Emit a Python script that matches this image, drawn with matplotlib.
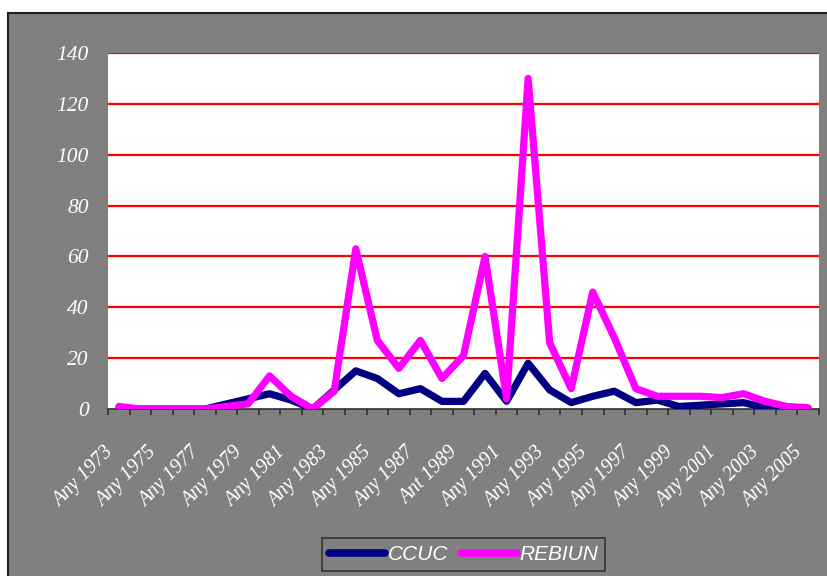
import matplotlib
matplotlib.use("Agg")
import matplotlib.pyplot as plt
from matplotlib.patches import Rectangle
from matplotlib.transforms import ScaledTranslation
import numpy as np

years = list(range(1973, 2006))
labels = ["Any %d" % y for y in years]
labels[16] = "Ant 1989"  # typo kept from the original chart

ccuc = [0, 0, 0, 0, 0, 2, 4, 6, 3.5, 0, 7.5, 15, 12, 6, 8, 3, 3, 14, 3, 18,
        7.5, 2.5, 5, 7, 2.5, 3.5, 1, 1.5, 2, 2.5, 0.5, 0, 0]
rebiun = [1, 0, 0, 0, 0, 1, 2, 13, 5, 0, 7, 63, 27, 16, 27, 12, 21, 60, 4, 130,
          26, 8, 46, 28, 8, 5, 5, 5, 4.5, 6, 3, 1, 0.5]

W, H = 828, 576
fig = plt.figure(figsize=(W / 100, H / 100), dpi=100)
fig.patch.set_facecolor("white")

# grey chart area with black border on top / left
bg = Rectangle((8 / W, 0), 1, 1 - 13 / H, transform=fig.transFigure,
               facecolor="#808080", edgecolor="none", zorder=-10)
fig.patches.append(bg)
fig.add_artist(plt.Line2D([8 / W, 1], [1 - 13 / H, 1 - 13 / H], color="#202020", lw=1.5,
                          transform=fig.transFigure, zorder=-5))
fig.add_artist(plt.Line2D([8 / W, 8 / W], [0, 1 - 13 / H], color="#202020", lw=1.5,
                          transform=fig.transFigure, zorder=-5))

left, right, top, bottom = 108, 819, 53, 409
ax = fig.add_axes([left / W, 1 - bottom / H, (right - left) / W, (bottom - top) / H])
ax.set_zorder(5)
ax.set_facecolor("white")

n = len(years)
x = np.arange(n)
ax.plot(x, ccuc, color="#000080", lw=5.2, solid_joinstyle="round",
        solid_capstyle="round", label="CCUC", zorder=3)
ax.plot(x, rebiun, color="#FF00FF", lw=5.2, solid_joinstyle="round",
        solid_capstyle="round", label="REBIUN", zorder=4)

ax.set_xlim(-0.5, n - 0.5)
ax.set_ylim(0, 140)
ax.set_yticks(range(0, 141, 20))
for v in range(20, 141, 20):
    ax.axhline(v, color="#FF0000", lw=1.6, zorder=1)

for s in ["top", "right", "left"]:
    ax.spines[s].set_visible(False)
ax.spines["bottom"].set_color("#303030")
ax.spines["bottom"].set_linewidth(1.2)

ax.set_xticks(np.arange(-0.5, n, 1), minor=False)
ax.set_xticklabels([])
ax.tick_params(axis="x", which="major", length=4, color="#303030", width=1.2, direction="out")
ax.tick_params(axis="y", length=0, pad=14)

ax.set_xticks(x[::2], minor=True)
ax.set_xticklabels(labels[::2], minor=True, rotation=45, ha="right", va="top",
                   rotation_mode="anchor", fontsize=14.5, color="white",
                   family="Liberation Serif", style="italic")
ax.tick_params(axis="x", which="minor", length=0, pad=14)
shift = ScaledTranslation(-15 / 100, -15 / 100, fig.dpi_scale_trans)
for t in ax.get_xticklabels(minor=True):
    t.set_transform(t.get_transform() + shift)
for t in ax.get_yticklabels():
    t.set_family("Liberation Serif")
    t.set_style("italic")
    t.set_fontsize(15.5)
    t.set_color("white")

leg = fig.legend(loc="center", bbox_to_anchor=(463.5 / W, 1 - 554.5 / H), ncol=2,
                 frameon=True, fancybox=False, handlelength=2.7, handletextpad=0.1,
                 columnspacing=0.6, borderpad=0.35,
                 prop={"family": "Liberation Sans", "style": "italic", "size": 15})
leg.set_zorder(6)
leg.get_frame().set_facecolor("#808080")
leg.get_frame().set_edgecolor("#202020")
leg.get_frame().set_linewidth(1.2)
for t in leg.get_texts():
    t.set_color("white")
for h in leg.legend_handles:
    h.set_linewidth(5.5)

fig.savefig("out.png", dpi=100, facecolor=fig.get_facecolor())
